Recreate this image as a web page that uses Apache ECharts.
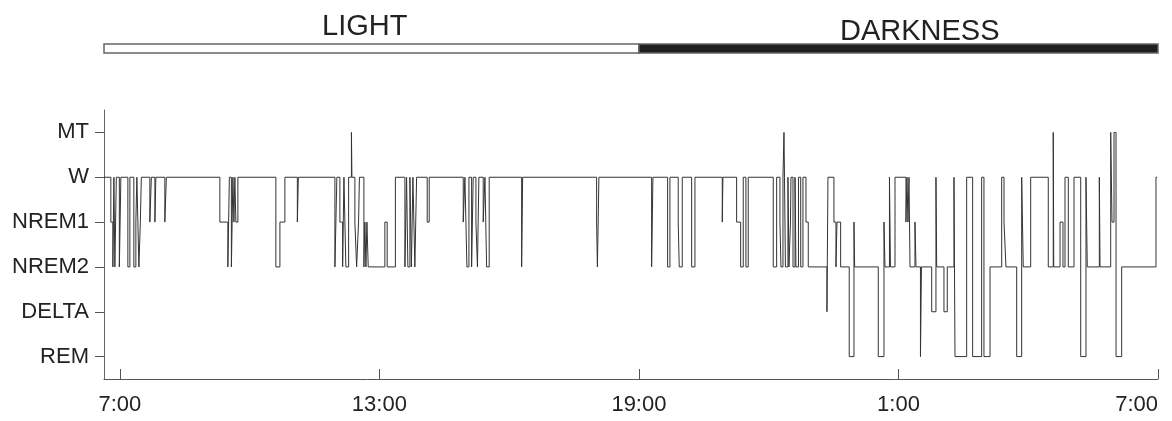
<!DOCTYPE html>
<html>
<head>
<meta charset="utf-8">
<script src="https://cdn.jsdelivr.net/npm/echarts@6/dist/echarts.min.js"></script>
<style>
html,body{margin:0;padding:0;background:#fff;}
#chart{width:1172px;height:421px;}
</style>
</head>
<body>
<div id="chart"></div>
<script>
// ---- data ----
const stageNames = ['REM', 'DELTA', 'NREM2', 'NREM1', 'W', 'MT'];
const tickMinutes = [0, 360, 720, 1080, 1440];          // minutes after 7:00
const tickLabels = ['7:00', '13:00', '19:00', '1:00', '7:00'];
const recordStart = -22;                                  // minutes relative to 7:00
const lightPeriod = [-22, 720];
const darkPeriod = [720, 1440];
const periodLabels = ['LIGHT', 'DARKNESS'];

// stage changes: minute (after 7:00) and stage entered at that minute
const changeMinutes = [
  -22.2, -12.5, -9.7, -8.3, -6.9, -4.9, -0.7, 1.4, 11.1, 13.9, 19.4, 22.2, 23.6, 25.0, 26.4, 28.4, 29.8,
  41.6, 43.7, 48.6, 49.9, 62.4, 64.5, 138.7, 149.8, 151.9, 154.7, 156.8, 158.2, 159.5, 160.9, 163.7,
  216.4, 222.0, 228.9, 246.2, 247.6, 298.3, 301.0, 305.2, 309.0, 310.8, 313.5, 317.3, 321.2, 321.9,
  326.0, 328.4, 331.1, 332.3, 338.5, 339.9, 341.3, 342.7, 344.5, 367.6, 370.8, 382.2, 395.4, 397.7,
  399.5, 402.3, 404.4, 406.5, 409.2, 411.6, 426.3, 429.1, 476.3, 478.6, 480.0, 481.4, 484.2, 487.9,
  490.1, 493.9, 496.0, 498.0, 504.0, 506.4, 508.7, 512.3, 557.3, 558.7, 661.3, 662.4, 664.5, 737.6,
  739.4, 759.8, 763.0, 774.5, 775.9, 780.1, 793.1, 797.7, 835.6, 836.5, 855.5, 861.1, 864.7, 868.4,
  871.6, 906.3, 911.0, 915.6, 917.0, 919.8, 921.2, 921.9, 923.2, 926.7, 928.1, 930.2, 930.9, 933.7,
  936.5, 937.8, 941.3, 944.4, 947.5, 951.7, 954.9, 980.8, 982.2, 990.5, 993.3, 994.7, 999.8, 1011.7,
  1018.3, 1019.2, 1052.0, 1059.9, 1061.3, 1067.5, 1068.9, 1075.2, 1090.4, 1091.8, 1093.2, 1094.6,
  1096.0, 1102.9, 1104.3, 1110.5, 1111.9, 1126.1, 1132.0, 1133.0, 1143.1, 1147.7, 1157.0, 1158.4,
  1174.6, 1182.9, 1195.4, 1198.6, 1207.0, 1223.2, 1226.4, 1229.1, 1244.0, 1250.9, 1252.0, 1253.1,
  1263.4, 1287.8, 1294.7, 1295.4, 1304.1, 1308.2, 1311.0, 1315.6, 1323.5, 1332.8, 1340.1, 1341.9,
  1358.6, 1359.6, 1374.4, 1376.2, 1379.0, 1381.8, 1389.6, 1437.2, 1439.0
];
const changeStages = [
  'W','NREM1','NREM2','W','NREM2','W','NREM2','W','NREM2','W','NREM2','NREM1','W','NREM1','NREM2','NREM1','W',
  'NREM1','W','NREM1','W','NREM1','W','NREM1','NREM2','W','NREM2','W','NREM1','W','NREM1','W',
  'NREM2','NREM1','W','NREM1','W','NREM2','W','NREM1','NREM2','W','NREM2','W','MT','W',
  'NREM1','NREM2','NREM1','W','NREM2','NREM1','NREM2','NREM1','NREM2','NREM1','NREM2','W','NREM2','W',
  'NREM2','W','NREM2','W','NREM2','W','NREM1','W','NREM1','W','NREM1','NREM2','W','NREM2',
  'W','NREM1','NREM2','W','NREM1','W','NREM2','W','NREM2','W','NREM1','NREM2','W','NREM2',
  'W','NREM2','W','NREM1','NREM2','W','NREM2','W','NREM1','W','NREM1','NREM2','W','NREM2',
  'W','NREM2','W','NREM1','NREM2','W','MT','W','NREM2','W','NREM2','NREM1','W','NREM2',
  'W','NREM2','W','NREM2','W','NREM1','NREM2','DELTA','W','NREM1','NREM2','NREM1','NREM2','REM',
  'NREM1','NREM2','REM','NREM1','NREM2','W','NREM2','W','NREM1','W','NREM1','W',
  'NREM2','NREM1','NREM2','REM','NREM2','DELTA','W','NREM2','DELTA','NREM2','W','REM',
  'W','REM','W','REM','NREM2','W','NREM1','NREM2','REM','W','NREM1','NREM2',
  'W','NREM2','MT','NREM2','NREM1','NREM2','W','NREM2','W','REM','W','NREM2',
  'W','NREM2','MT','NREM1','MT','REM','NREM2','W','W'
];

// ---- chart ----
const hypnoData = changeMinutes.map((m, i) => [m, stageNames.indexOf(changeStages[i])]);
const periodData = [
  [lightPeriod[0], lightPeriod[1], 0],
  [darkPeriod[0], darkPeriod[1], 1]
];
function fmtTick(v) {
  const i = tickMinutes.indexOf(v);
  return i >= 0 ? tickLabels[i] : '';
}
const FONT = '"Liberation Sans", Arial, Helvetica, sans-serif';
const chart = echarts.init(document.getElementById('chart'), null, {renderer: 'canvas'});
chart.setOption({
  animation: false,
  backgroundColor: '#fff',
  grid: [
    {left: 104, right: 14, top: 110, bottom: 42, containLabel: false, outerBoundsMode: 'none'},
    {left: 104, right: 14, top: 44, height: 9, containLabel: false, outerBoundsMode: 'none'}
  ],
  graphic: [
    {type: 'text', left: 322, top: 12, style: {text: periodLabels[0], font: '29px ' + FONT, fill: '#222'}},
    {type: 'text', left: 840, top: 17, style: {text: periodLabels[1], font: '29px ' + FONT, fill: '#222'}}
  ],
  xAxis: [
    {
      type: 'value', gridIndex: 0, min: recordStart, max: 1440,
      axisLine: {show: true, onZero: false, lineStyle: {color: '#555', width: 1}},
      axisTick: {show: true, inside: true, length: 10, customValues: tickMinutes, lineStyle: {color: '#555'}},
      axisLabel: {show: true, customValues: tickMinutes, formatter: fmtTick, margin: 15,
        alignMaxLabel: 'right', fontSize: 22, fontFamily: FONT, color: '#222'},
      splitLine: {show: false}
    },
    {
      type: 'value', gridIndex: 1, min: recordStart, max: 1440, show: false
    }
  ],
  yAxis: [
    {
      type: 'value', gridIndex: 0, min: -0.5, max: 5.5,
      axisLine: {show: true, onZero: false, lineStyle: {color: '#666', width: 1}},
      axisTick: {show: true, inside: false, length: 9, customValues: [0, 1, 2, 3, 4, 5], lineStyle: {color: '#555'}},
      axisLabel: {show: true, customValues: [0, 1, 2, 3, 4, 5], formatter: v => stageNames[Math.round(v)] || '',
        margin: 15, fontSize: 22, fontFamily: FONT, color: '#222'},
      splitLine: {show: false}
    },
    {type: 'value', gridIndex: 1, min: 0, max: 1, show: false}
  ],
  series: [
    {
      type: 'line', xAxisIndex: 0, yAxisIndex: 0,
      data: hypnoData, step: 'end', showSymbol: false, symbol: 'none',
      lineStyle: {color: '#333', width: 1}, silent: true
    },
    {
      type: 'custom', xAxisIndex: 1, yAxisIndex: 1, data: periodData, silent: true,
      renderItem: function (params, api) {
        const p0 = api.coord([api.value(0), 1]);
        const p1 = api.coord([api.value(1), 0]);
        const dark = api.value(2) === 1;
        return {
          type: 'rect',
          shape: {x: p0[0], y: p0[1], width: p1[0] - p0[0], height: p1[1] - p0[1]},
          style: {fill: dark ? '#231f20' : '#fff', stroke: '#666', lineWidth: 1.5}
        };
      }
    }
  ]
});
</script>
</body>
</html>
